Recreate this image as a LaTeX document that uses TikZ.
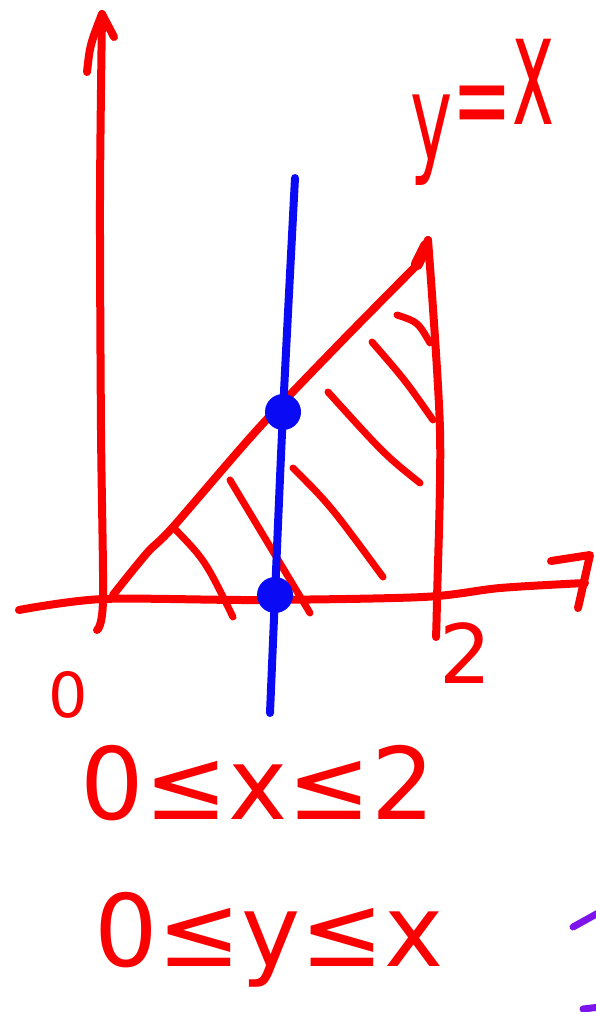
\documentclass[tikz,border=0pt]{standalone}
\usepackage{fontspec}
\setmainfont{DejaVu Sans}
\usepackage{tikz}
\definecolor{penred}{RGB}{250,0,0}
\definecolor{penblue}{RGB}{10,10,245}
\definecolor{penviolet}{RGB}{125,20,235}

\begin{document}
\begin{tikzpicture}[
  x=1pt, y=-1pt,
  line cap=round, line join=round,
  ink/.style={draw=penred, line width=8pt},
  hatch/.style={draw=penred, line width=7pt},
  cut/.style={draw=penblue, line width=8pt},
  dot/.style={circle, fill=penblue, minimum size=36pt, inner sep=0pt},
  lbl/.style={text=penred, inner sep=0pt},
  big/.style={lbl, font=\fontsize{100}{100}\selectfont}
]
\useasboundingbox (0,0) rectangle (596,1012);
% axes
\draw[ink] plot[smooth] coordinates {(97,630) (103,600) (101,430) (100,200) (102,14)};
\draw[ink] (87,72) .. controls (90,45) .. (102,14) -- (114,37);
\draw[ink] plot[smooth] coordinates {(19,610) (103,599) (257,600) (423,597) (500,588) (585,583)};
\draw[ink] (551,561) -- (590,555) -- (578,608);
% region
\draw[ink] plot[smooth] coordinates {(113,595) (147,553) (173,527) (257,430) (340,343) (418,264)} -- (428,240);
\draw[ink, line width=12pt] (417,264) -- (426,246);
\draw[ink] plot[smooth] coordinates {(428,240) (440,430) (437,600) (436,637)};
\draw[hatch] (173,527) .. controls (205,560) .. (233,617);
\draw[hatch] (230,480) -- (310,613);
\draw[hatch] (293,468) .. controls (330,505) .. (383,577);
\draw[hatch] (328,392) .. controls (385,455) .. (420,483);
\draw[hatch] (372,342) .. controls (405,380) .. (433,420);
\draw[hatch] (397,315) .. controls (418,322) .. (430,343);
% slice
\draw[cut] plot[smooth] coordinates {(295,178) (283,412) (275,595) (270,713)};
\node[dot] (top) at (283,412) {};
\node[dot] (low) at (275,595) {};
% labels
\node[lbl, anchor=base west, font=\fontsize{75}{75}\selectfont] (diag) at (410,160)
  {\scalebox{0.95}[1.6]{y\raisebox{12pt}{=}\raisebox{22pt}{\scalebox{1}[1.3]{x}}}};
\node[lbl, font=\fontsize{62}{62}\selectfont] (zero) at (68,695) {0};
\node[lbl, font=\fontsize{82}{82}\selectfont] (two) at (466,653) {2};
\node[big] (xrange) at (258,783) {0≤x≤2};
\node[big] (yrange) at (269,940) {0≤y≤x};
% stray strokes at the edge
\draw[draw=penviolet, line width=7pt] (573,927) -- (600,912);
\draw[draw=penviolet, line width=7pt] (583,1009) -- (600,1007);
\end{tikzpicture}
\end{document}
